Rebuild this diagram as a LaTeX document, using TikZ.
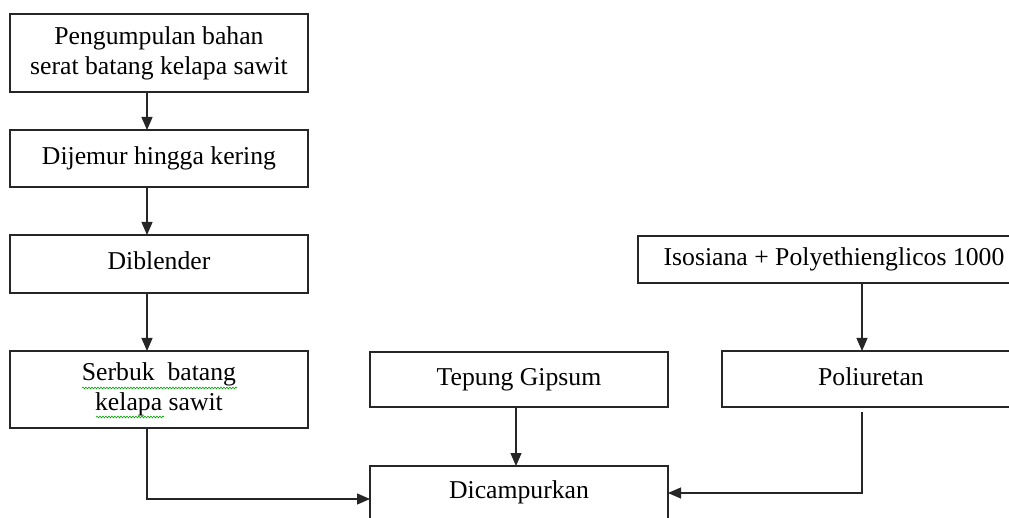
\documentclass[tikz,border=0pt]{standalone}
\usepackage{fontspec}
\setmainfont{Liberation Serif}
\usetikzlibrary{arrows.meta,decorations.pathmorphing}
\begin{document}
\begin{tikzpicture}[x=1pt,y=-1pt,
  box/.style={draw=black!85,line width=1.1pt,rectangle,inner sep=0pt,outer sep=0pt,
    align=center,font=\fontsize{25.7}{30}\selectfont,text height=18pt,text depth=6pt},
  arr/.style={draw=black!85,line width=1.1pt,-{Triangle[length=13pt,width=11pt]}},
  squig/.style={draw=green!65!black,line width=0.6pt,decorate,
    decoration={snake,amplitude=0.9pt,segment length=3pt}}]
\useasboundingbox (0,0) rectangle (1009,518);
\clip (0,0) rectangle (1009,518);
\fill[white] (0,0) rectangle (1009,518);
% left column
\node[box,minimum width=298pt,minimum height=78pt,text height=,text depth=] (b1) at (159,53)
  {Pengumpulan bahan\\serat batang kelapa sawit};
\node[box,minimum width=298pt,minimum height=57pt] (b2) at (159,158.5) {Dijemur hingga kering};
\node[box,minimum width=298pt,minimum height=58pt] (b3) at (159,264) {Diblender};
\node[box,minimum width=298pt,minimum height=77pt,text height=,text depth=] (b4) at (159,389.5)
  {Serbuk\ \ batang\\kelapa sawit};
% middle
\node[box,minimum width=298pt,minimum height=55pt] (gips) at (519,379.5) {Tepung Gipsum};
\node[box,minimum width=298pt,minimum height=60pt,text depth=14pt] (mix) at (519,496) {Dicampurkan};
% right
\node[box,minimum width=392pt,minimum height=47pt] (iso) at (834,259.5) {Isosiana + Polyethienglicos 1000};
\node[box,minimum width=298pt,minimum height=56pt] (poli) at (871,379) {Poliuretan};
\coordinate (px) at (862,0);
% connectors
\draw[arr] ([xshift=-12pt]b1.south) -- ([xshift=-12pt]b2.north);
\draw[arr] ([xshift=-12pt]b2.south) -- ([xshift=-12pt]b3.north);
\draw[arr] ([xshift=-12pt]b3.south) -- ([xshift=-12pt]b4.north);
\draw[arr] ([xshift=-12pt]b4.south) |- ([yshift=-3pt]mix.west);
\draw[arr] ([xshift=-3pt]gips.south) -- ([xshift=-3pt]mix.north);
\draw[arr] (iso.south -| px) -- (poli.north -| px);
\draw[arr] ([yshift=-5pt]poli.south -| px) |- ([yshift=3pt]mix.east);
% spell-check underlines
\draw[squig] (82,388) -- (237,388);
\draw[squig] (96,417) -- (164,417);
\end{tikzpicture}
\end{document}
